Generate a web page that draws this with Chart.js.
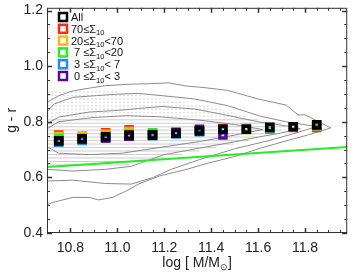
<!DOCTYPE html>
<html><head><meta charset="utf-8">
<script src="https://cdn.jsdelivr.net/npm/chart.js@4/dist/chart.umd.min.js"></script>
<style>html,body{margin:0;padding:0;background:#fff}#wrap{width:355px;height:273px}</style>
</head><body><div id="wrap"><canvas id="c" width="355" height="273"></canvas></div>
<script>
// ---------- data ----------
const massBins = [10.75,10.85,10.95,11.05,11.15,11.25,11.35,11.45,11.55,11.65,11.75,11.85];
const grAll    = [0.732,0.739,0.746,0.752,0.753,0.759,0.767,0.773,0.773,0.780,0.782,0.789];
const grS70    = [0.752,0.745,0.760,0.771,0.757,0.760,0.768,0.775,0.776,0.774,0.780,0.780];
const grS20    = [0.747,0.750,0.755,0.765,0.755,0.760,0.766,0.770,0.772,0.776,0.781,0.785];
const grS7     = [0.740,0.742,0.748,0.755,0.760,0.758,0.765,0.770,0.772,0.778,0.781,0.787];
const grS3     = [0.727,0.733,0.741,0.748,0.750,0.756,0.764,0.770,0.773,0.779,0.782,0.787];
const grS0     = [0.730,0.738,0.742,0.748,0.752,0.762,0.773,0.753,null,null,null,null];
const legendLabels = ['All','70≤Σ_10','20≤Σ_10<70',' 7 ≤Σ_10<20',' 3 ≤Σ_10< 7',' 0 ≤Σ_10< 3'];
const seriesColors = ['#000000','#ff2a10','#ffb800','#22ee22','#1e8cff','#5a0890'];

const greenLine = [[10.70,0.637],[11.98,0.709]];

const contour1 = [[10.70,0.870],[10.75,0.894],[10.81,0.911],[10.88,0.921],[10.95,0.930],[11.05,0.935],[11.14,0.937],[11.22,0.940],[11.29,0.929],[11.37,0.923],[11.47,0.913],[11.60,0.882],[11.72,0.860],[11.77,0.825],[11.80,0.825],[11.91,0.778],[11.81,0.752],[11.71,0.729],[11.61,0.705],[11.50,0.675],[11.39,0.652],[11.30,0.630],[11.18,0.605],[11.09,0.576],[11.04,0.552],[10.98,0.528],[10.92,0.519],[10.88,0.528],[10.81,0.528],[10.73,0.511],[10.70,0.502]];
const contour2 = [[10.70,0.835],[10.73,0.864],[10.81,0.888],[10.91,0.894],[10.99,0.899],[11.09,0.902],[11.19,0.894],[11.33,0.882],[11.47,0.858],[11.61,0.820],[11.72,0.800],[11.85,0.783],[11.75,0.757],[11.65,0.733],[11.50,0.703],[11.35,0.664],[11.23,0.629],[11.15,0.599],[11.06,0.576],[10.95,0.578],[10.81,0.590],[10.70,0.587]];
const contour3 = [[10.70,0.793],[10.75,0.817],[10.88,0.835],[11.02,0.842],[11.09,0.848],[11.19,0.855],[11.33,0.846],[11.47,0.823],[11.60,0.800],[11.72,0.785],[11.78,0.775],[11.70,0.760],[11.60,0.745],[11.50,0.728],[11.35,0.705],[11.20,0.682],[11.06,0.640],[10.95,0.629],[10.81,0.623],[10.70,0.629]];
const contour4 = [[10.70,0.775],[10.75,0.800],[10.89,0.815],[11.04,0.822],[11.18,0.818],[11.35,0.806],[11.50,0.790],[11.62,0.772],[11.50,0.752],[11.35,0.729],[11.16,0.705],[11.02,0.687],[10.88,0.682],[10.75,0.687],[10.70,0.711]];

// horizontal streaks of the quantised point cloud: [g-r, end mass]
const denseStreaks = [[0.645,11.05],[0.657,11.12],[0.670,11.20],[0.682,11.28],[0.695,11.35],[0.707,11.42],[0.720,11.50],[0.732,11.56],[0.745,11.60],[0.757,11.66],[0.770,11.70],[0.782,11.72],[0.795,11.70],[0.807,11.60]];
const sparseStreaks = [[0.820,11.55],[0.832,11.50],[0.845,11.45],[0.857,11.40],[0.870,11.30],[0.882,11.20],[0.895,11.10],[0.907,11.00]];

const xTicks = [10.8,11.0,11.2,11.4,11.6,11.8];
const yTicks = [0.4,0.6,0.8,1.0,1.2];
const xMinor = 0.05, yMinor = 0.05;
const xRange = [10.70,11.98], yRange = [0.40,1.21];

// ---------- build ----------
const pts = (arr) => arr.map(p => ({x:p[0], y:p[1]}));
const streakPts = (arr) => { const o=[]; arr.forEach(s=>{o.push({x:xRange[0],y:s[0]},{x:s[1],y:s[0]},{x:s[1],y:null});}); return o; };
const seriesVals = [grAll,grS70,grS20,grS7,grS3,grS0];

const datasets = [];
datasets.push({data:streakPts(denseStreaks),showLine:true,borderColor:'#cdcdcd',borderWidth:1,pointRadius:0,spanGaps:false,order:20});
datasets.push({data:streakPts(sparseStreaks),showLine:true,borderColor:'#d8d8d8',borderWidth:1,borderDash:[2,2],pointRadius:0,spanGaps:false,order:20});
[contour1,contour2,contour3,contour4].forEach(c=>datasets.push({data:pts(c),showLine:true,borderColor:'#8c8c8c',borderWidth:1,pointRadius:0,order:15}));
datasets.push({data:pts(greenLine),showLine:true,borderColor:'#22ee22',borderWidth:2,pointRadius:0,order:14});
// markers: coloured first, black on top
const drawOrder = [1,2,3,4,5,0];
drawOrder.forEach((si,k)=>{
  datasets.push({
    label: legendLabels[si],
    data: massBins.map((m,i)=>({x:m,y:seriesVals[si][i]})).filter(p=>p.y!==null),
    showLine:false, pointStyle:'rect', pointRadius:4.3, pointHoverRadius:4.3,
    pointBorderWidth:3.5, pointBorderColor:seriesColors[si], pointBackgroundColor:'rgba(0,0,0,0)',
    order: 10-k
  });
});

const FONT = "'Liberation Sans', Arial, sans-serif";

const framePlugin = {
  id:'frame',
  afterDatasetsDraw(chart){
    const {ctx, chartArea:a, scales:{x,y}} = chart;
    ctx.save();
    ctx.strokeStyle='#333'; ctx.lineWidth=1;
    ctx.strokeRect(a.left+0.5,a.top+0.5,a.right-a.left-1,a.bottom-a.top-1);
    const tick=(px,len,vert,w)=>{
      ctx.lineWidth=w; ctx.beginPath();
      if(vert){ ctx.moveTo(px,a.bottom); ctx.lineTo(px,a.bottom-len); ctx.moveTo(px,a.top); ctx.lineTo(px,a.top+len); }
      else { ctx.moveTo(a.left,px); ctx.lineTo(a.left+len,px); ctx.moveTo(a.right,px); ctx.lineTo(a.right-len,px); }
      ctx.stroke();
    };
    for(let v=Math.ceil(xRange[0]/xMinor)*xMinor; v<=xRange[1]+1e-9; v+=xMinor){
      const major = xTicks.some(t=>Math.abs(t-v)<1e-6);
      tick(Math.round(x.getPixelForValue(v))+0.5, major?5:3, true, major?1.5:1);
    }
    for(let v=yRange[0]; v<=yRange[1]+1e-9; v+=yMinor){
      const major = yTicks.some(t=>Math.abs(t-v)<1e-6);
      tick(Math.round(y.getPixelForValue(v))+0.5, major?5:3, false, major?1.5:1);
    }
    ctx.restore();
  },
  afterDraw(chart){
    const {ctx, chartArea:a} = chart;
    ctx.save();
    // legend
    const lx=63, ly0=17, dy=11.8;
    legendLabels.forEach((lab,i)=>{
      const yy=ly0+i*dy;
      ctx.strokeStyle=seriesColors[i]; ctx.lineWidth=2.5;
      ctx.strokeRect(lx-4,yy-4,8,8);
      ctx.fillStyle='#111'; ctx.textBaseline='alphabetic'; ctx.textAlign='left';
      let tx=lx+8; const base=yy+4;
      lab.split(/(_\d+)/).forEach(seg=>{
        if(!seg) return;
        if(seg.startsWith('_')){ ctx.font='7.5px '+FONT; ctx.fillText(seg.slice(1),tx,base+2.5); tx+=ctx.measureText(seg.slice(1)).width; }
        else { ctx.font='11px '+FONT; ctx.fillText(seg,tx,base); tx+=ctx.measureText(seg).width; }
      });
    });
    // x title
    ctx.fillStyle='#222';
    const p1='log [ M/M', p3=']';
    ctx.font='14px '+FONT; const w1=ctx.measureText(p1).width, w3=ctx.measureText(p3).width;
    ctx.font='9px '+FONT; const w2=ctx.measureText('⊙').width;
    let sx=(a.left+a.right)/2 - (w1+w2+w3)/2; const by=267;
    ctx.textAlign='left'; ctx.textBaseline='alphabetic';
    ctx.font='14px '+FONT; ctx.fillText(p1,sx,by); sx+=w1;
    ctx.font='9px '+FONT; ctx.fillText('⊙',sx,by+3); sx+=w2;
    ctx.font='14px '+FONT; ctx.fillText(p3,sx,by);
    // y title
    ctx.save(); ctx.translate(12,(a.top+a.bottom)/2); ctx.rotate(-Math.PI/2);
    ctx.textAlign='center'; ctx.textBaseline='middle'; ctx.font='14px '+FONT;
    ctx.fillText('g - r',0,0); ctx.restore();
    ctx.restore();
  }
};

new Chart(document.getElementById('c'),{
  type:'scatter',
  data:{datasets},
  options:{
    responsive:false, animation:false, devicePixelRatio:1,
    layout:{padding:{top:4,right:5,left:0,bottom:0}},
    plugins:{legend:{display:false},tooltip:{enabled:false}},
    scales:{
      x:{type:'linear',min:xRange[0],max:xRange[1],
        grid:{display:false,drawTicks:false},border:{display:false},
        ticks:{padding:7,color:'#222',font:{family:FONT,size:14},callback:v=>v.toFixed(1),maxRotation:0,autoSkip:false},
        afterBuildTicks:s=>{s.ticks=xTicks.map(v=>({value:v}));},
        afterFit:s=>{s.height=40;s.paddingLeft=0;s.paddingRight=0;}},
      y:{type:'linear',min:yRange[0],max:yRange[1],
        grid:{display:false,drawTicks:false},border:{display:false},
        ticks:{padding:4,color:'#222',font:{family:FONT,size:14},callback:v=>v.toFixed(1),autoSkip:false},
        afterBuildTicks:s=>{s.ticks=yTicks.map(v=>({value:v}));},
        afterFit:s=>{s.width=47;s.paddingTop=0;s.paddingBottom=0;}}
    }
  },
  plugins:[framePlugin]
});
</script></body></html>
